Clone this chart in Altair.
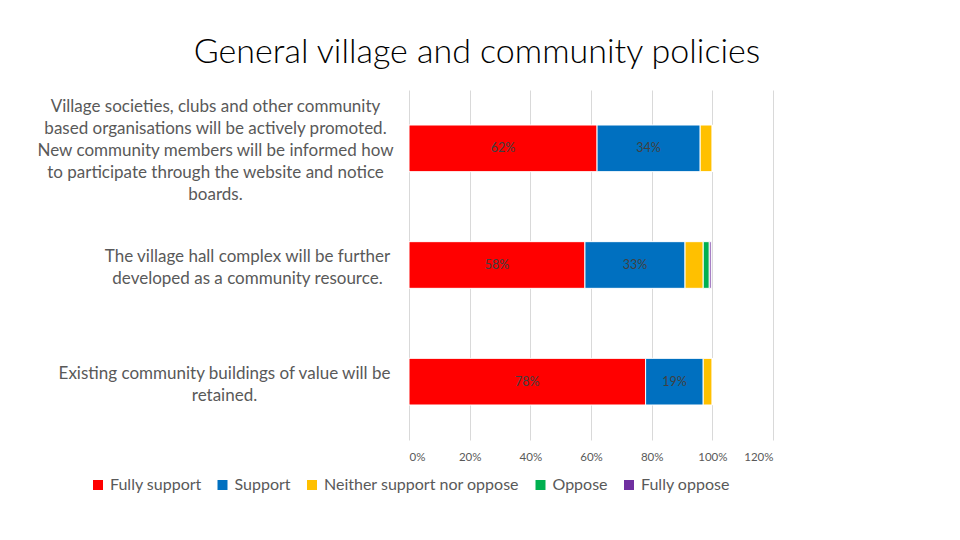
import altair as alt
import pandas as pd

questions = [
    "Village societies, clubs and other community|based organisations will be actively promoted.|New community members will be informed how|to participate through the website and notice|boards.",
    "The village hall complex will be further|developed as a community resource.",
    "Existing community buildings of value will be|retained.",
]
categories = ["Fully support", "Support", "Neither support nor oppose", "Oppose", "Fully oppose"]
colors = ["#FF0000", "#0070C0", "#FFC000", "#00B050", "#7030A0"]

fully_support = [0.62, 0.58, 0.78]
support = [0.34, 0.33, 0.19]
neither = [0.04, 0.06, 0.03]
oppose = [0.0, 0.02, 0.0]
fully_oppose = [0.0, 0.006, 0.0]

series = [fully_support, support, neither, oppose, fully_oppose]
rows = []
for ci, (cat, vals) in enumerate(zip(categories, series)):
    for q, v in zip(questions, vals):
        rows.append({"question": q, "category": cat, "order": ci, "value": v})
df = pd.DataFrame(rows)

FONT = "Lato"
GRAY = "#595959"
LH = 22

base = alt.Chart(df).transform_stack(
    stack="value", groupby=["question"], as_=["x0", "x1"], sort=[alt.SortField("order")]
)

def is_q(i):
    return "indexof(datum.value, '%s') === 0" % questions[i].split("|")[0]

label_offset = {
    "condition": [{"test": is_q(0), "value": -2 * LH + 3}],
    "value": -0.5 * LH + 3,
}
label_padding = {
    "condition": [
        {"test": is_q(0), "value": 194},
        {"test": is_q(1), "value": 162},
    ],
    "value": 185,
}

y_enc = alt.Y(
    "question:N",
    sort=questions,
    scale=alt.Scale(paddingInner=0.6, paddingOuter=0.3),
    axis=alt.Axis(
        title=None, domain=False, ticks=False, labelAlign="center",
        labelPadding=label_padding, labelOffset=label_offset,
        labelLimit=0, labelLineHeight=LH, labelBaseline="middle", labelFontSize=17,
        labelFont=FONT, labelColor=GRAY, labelExpr="split(datum.label, '|')",
    ),
)

bars = base.mark_bar(stroke="white", strokeWidth=1).encode(
    y=y_enc,
    x=alt.X(
        "x0:Q",
        scale=alt.Scale(domain=[0, 1.2], nice=False),
        axis=alt.Axis(
            title=None, format=".0%", values=[0, 0.2, 0.4, 0.6, 0.8, 1.0, 1.2],
            domain=False, ticks=False, labelFontSize=11.5, labelFont=FONT, labelColor=GRAY,
            gridColor="#d9d9d9", labelPadding=11,
        ),
    ),
    x2="x1",
    color=alt.Color(
        "category:N",
        scale=alt.Scale(domain=categories, range=colors),
        legend=alt.Legend(
            title=None, orient="none", legendX=-319, legendY=387, direction="horizontal",
            symbolType="square", symbolSize=100, symbolStrokeWidth=0, labelFontSize=16,
            labelFont=FONT, labelColor=GRAY, columnPadding=12.5, symbolOffset=0,
            labelOffset=4, labelLimit=0,
        ),
    ),
    order=alt.Order("order:Q"),
)

texts = base.transform_filter("datum.order < 2").transform_calculate(
    mid="(datum.x0 + datum.x1) / 2"
).mark_text(fontSize=12.5, font=FONT, color="#404040").encode(
    y=alt.Y("question:N", sort=questions),
    x="mid:Q",
    text=alt.Text("value:Q", format=".0%"),
)

chart = alt.layer(bars, texts).properties(
    width=364,
    height=350,
    autosize=alt.AutoSizeParams(type="none"),
    padding={"left": 401, "top": 82, "right": 179, "bottom": 92},
    title=alt.TitleParams(
        "General village and community policies", fontSize=34, font=FONT,
        fontWeight=300, color="#000000", anchor="middle", dx=-114, dy=32,
        baseline="alphabetic", offset=25,
    ),
).configure_view(stroke=None)

chart.save("out.html", embed_options={"renderer": "svg", "actions": False})
